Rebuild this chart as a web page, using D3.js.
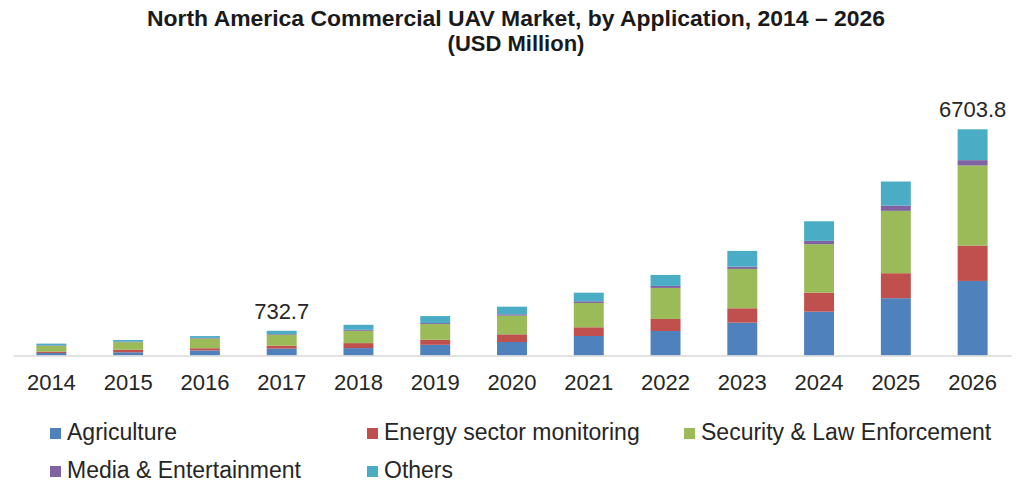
<!DOCTYPE html>
<html>
<head>
<meta charset="utf-8">
<script src="https://cdn.jsdelivr.net/npm/d3@7"></script>
<style>
  body { margin: 0; background: #fff; }
  text { font-family: Arial, "Liberation Sans", sans-serif; }
</style>
</head>
<body>
<svg id="chart" width="1032" height="483"></svg>
<script>
// data (USD Million)
const years = ["2014", "2015", "2016", "2017", "2018", "2019", "2020", "2021", "2022", "2023", "2024", "2025", "2026"];
const agriculture = [75, 95, 150, 205, 219, 317, 400, 578, 727, 973, 1299, 1697, 2210];
const energy = [42, 75, 65, 85, 148, 148, 228, 258, 356, 427, 564, 742, 1047];
const security = [170, 225, 290, 325, 365, 466, 552, 721, 920, 1166, 1436, 1848, 2373];
const media = [15, 15, 16, 20, 30, 30, 42, 50, 59, 68, 98, 157, 160];
const others = [50, 50, 55, 97.7, 148, 208, 225, 255, 326, 466, 581, 712, 913.8];
const seriesNames = ["Agriculture", "Energy sector monitoring", "Security & Law Enforcement", "Media & Entertainment", "Others"];
const labelYears = ["2017", "2026"];

const colors = ["#4f81bd", "#c0504d", "#9bbb59", "#8064a2", "#4bacc6"];

let table = years.map((y, i) => ({
  year: y,
  "Agriculture": agriculture[i],
  "Energy sector monitoring": energy[i],
  "Security & Law Enforcement": security[i],
  "Media & Entertainment": media[i],
  "Others": others[i]
}));

let stacked = d3.stack().keys(seriesNames)(table);
let totals = table.map(d => d3.sum(seriesNames, k => d[k]));

let svg = d3.select('#chart');

let x = d3.scaleBand()
  .domain(years)
  .range([13, 1011])
  .paddingInner(0.61)
  .paddingOuter(0.305);

let y = d3.scaleLinear()
  .domain([0, d3.max(totals)])
  .range([355.5, 129.3]);

let color = d3.scaleOrdinal().domain(seriesNames).range(colors);

// title
svg.append('text')
  .attr('x', 516).attr('y', 26)
  .attr('text-anchor', 'middle')
  .attr('font-size', 22).attr('font-weight', 'bold')
  .attr('fill', '#1a1a1a')
  .attr('textLength', 738).attr('lengthAdjust', 'spacingAndGlyphs')
  .text('North America Commercial UAV Market, by Application, 2014 \u2013 2026');
svg.append('text')
  .attr('x', 516).attr('y', 51)
  .attr('text-anchor', 'middle')
  .attr('font-size', 22).attr('font-weight', 'bold')
  .attr('fill', '#1a1a1a')
  .text('(USD Million)');

// bars
svg.append('g')
  .selectAll('g')
  .data(stacked)
  .enter().append('g')
  .attr('fill', d => color(d.key))
  .selectAll('rect')
  .data(d => d)
  .enter().append('rect')
  .attr('x', d => x(d.data.year))
  .attr('width', x.bandwidth())
  .attr('y', d => y(d[1]))
  .attr('height', d => y(d[0]) - y(d[1]));

// x axis
let xAxis = svg.append('g')
  .attr('transform', 'translate(0,' + y(0) + ')')
  .call(d3.axisBottom(x).tickSize(0).tickPadding(19));
xAxis.select('.domain').attr('stroke', '#d9d9d9').attr('stroke-width', 1.5);
xAxis.selectAll('text')
  .attr('font-size', 22)
  .attr('fill', '#262626')
  .style('font-family', 'Arial, "Liberation Sans", sans-serif');

// total labels
svg.append('g')
  .selectAll('text')
  .data(years.map((yr, i) => ({ year: yr, total: totals[i] })).filter(d => labelYears.includes(d.year)))
  .enter().append('text')
  .attr('x', d => x(d.year) + x.bandwidth() / 2)
  .attr('y', d => y(d.total) - 12)
  .attr('text-anchor', 'middle')
  .attr('font-size', 22)
  .attr('fill', '#262626')
  .text(d => d3.format('.1f')(d.total));

// legend
const legendPos = [[50, 440], [367, 440], [684, 440], [50, 478], [367, 478]];
let legend = svg.append('g')
  .selectAll('g')
  .data(seriesNames)
  .enter().append('g')
  .attr('transform', (d, i) => 'translate(' + legendPos[i][0] + ',' + legendPos[i][1] + ')');
legend.append('rect')
  .attr('x', 0).attr('y', -12)
  .attr('width', 11).attr('height', 11)
  .attr('fill', d => color(d));
legend.append('text')
  .attr('x', 17).attr('y', 0)
  .attr('font-size', 23)
  .attr('fill', '#262626')
  .text(d => d);
</script>
</body>
</html>
